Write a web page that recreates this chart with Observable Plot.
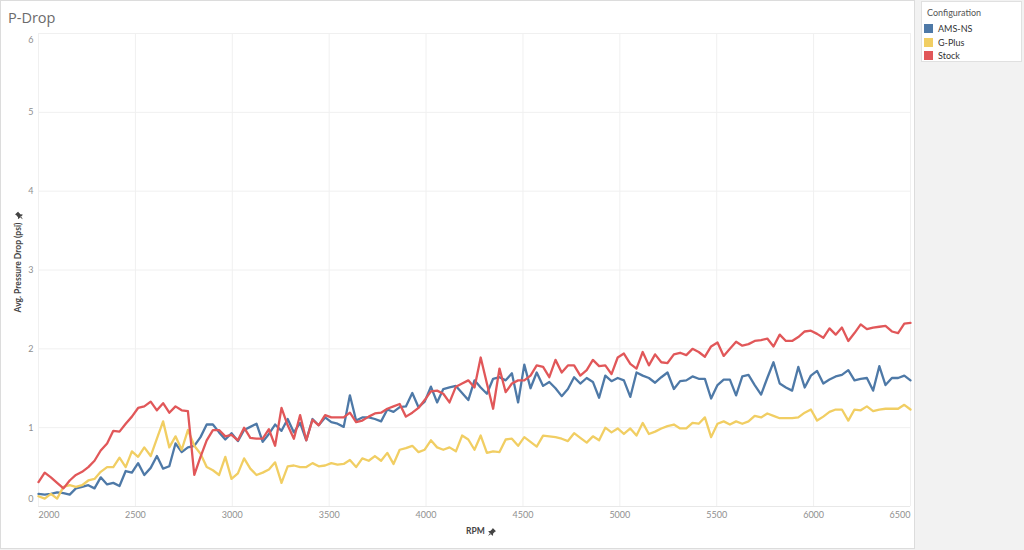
<!DOCTYPE html>
<html><head><meta charset="utf-8">
<script src="https://cdn.jsdelivr.net/npm/d3@7"></script>
<script src="https://cdn.jsdelivr.net/npm/@observablehq/plot@0.6"></script>
<style>
html,body{margin:0;padding:0;width:1024px;height:550px;overflow:hidden;background:#f2f2f2;font-family:"Open Sans",sans-serif;}
#panel{position:absolute;left:0;top:0;width:913px;height:547px;background:#fff;border:1px solid #dcdcdc;}
#chart{position:absolute;left:0;top:0;}
#title{position:absolute;left:8px;top:8px;font-size:14.5px;color:#6b6b6b;}
#ytitle{position:absolute;left:18px;top:262px;transform:translate(-50%,-50%) rotate(-90deg);font-family:Lato,sans-serif;font-size:8.5px;font-weight:bold;color:#444;white-space:nowrap;}
#xtitle{position:absolute;left:466px;top:526px;font-family:Lato,sans-serif;font-size:8.5px;font-weight:bold;color:#444;white-space:nowrap;}
.pin{display:inline-block;vertical-align:middle;margin-left:3px;}
#legend{position:absolute;left:921px;top:1px;width:99px;height:59px;background:#fff;border:1px solid #e0e0e0;font-family:Lato,sans-serif;}
#legend .lt{position:absolute;left:5px;top:5px;font-size:9px;color:#555;}
#legend .it{position:absolute;left:2px;height:11px;font-size:9px;color:#333;line-height:10px;white-space:nowrap;}
#legend .sw{display:inline-block;width:9px;height:9px;vertical-align:top;margin-right:5px;}
</style></head>
<body>
<div id="panel"></div>
<div id="chart"></div>
<div id="title">P-Drop</div>
<div id="ytitle">Avg. Pressure Drop (psi)<svg class="pin" width="8" height="8" viewBox="0 0 10 10"><path d="M6 0 L10 4 L8.6 4.6 L6.2 7.2 L6.4 9 L5.6 9.6 L0.4 4.4 L1 3.6 L2.8 3.8 L5.4 1.4 Z M2.6 6.2 L0 10 L3.8 7.4 Z" fill="#444"/></svg></div>
<div id="xtitle">RPM<svg class="pin" width="8" height="8" viewBox="0 0 10 10"><path d="M6 0 L10 4 L8.6 4.6 L6.2 7.2 L6.4 9 L5.6 9.6 L0.4 4.4 L1 3.6 L2.8 3.8 L5.4 1.4 Z M2.6 6.2 L0 10 L3.8 7.4 Z" fill="#444"/></svg></div>
<div id="legend"></div>
<script>
const configs = ["AMS-NS", "G-Plus", "Stock"];
const colors = ["#4e79a7", "#f1ce63", "#e15759"];
const yTicks = [0, 1, 2, 3, 4, 5, 6];
const xTicks = [2000, 2500, 3000, 3500, 4000, 4500, 5000, 5500, 6000, 6500];

const rpm = [2000,2032,2064,2096,2129,2161,2193,2225,2257,2289,
2321,2354,2386,2418,2450,2482,2514,2546,2579,2611,
2643,2675,2707,2739,2771,2804,2836,2868,2900,2932,
2964,2996,3029,3061,3093,3125,3157,3189,3221,3254,
3286,3318,3350,3382,3414,3446,3479,3511,3543,3575,
3607,3639,3671,3704,3736,3768,3800,3832,3864,3896,
3929,3961,3993,4025,4057,4089,4121,4154,4186,4218,
4250,4282,4314,4346,4379,4411,4443,4475,4507,4539,
4571,4604,4636,4668,4700,4732,4764,4796,4829,4861,
4893,4925,4957,4989,5021,5054,5086,5118,5150,5182,
5214,5246,5279,5311,5343,5375,5407,5439,5471,5504,
5536,5568,5600,5632,5664,5696,5729,5761,5793,5825,
5857,5889,5921,5954,5986,6018,6050,6082,6114,6146,
6179,6211,6243,6275,6307,6339,6371,6404,6436,6468,
6500];

const amsNs = [0.16,0.15,0.16,0.18,0.17,0.15,0.23,0.25,0.27,0.23,
0.37,0.28,0.30,0.26,0.45,0.43,0.55,0.40,0.49,0.64,
0.48,0.51,0.80,0.69,0.75,0.77,0.88,1.04,1.04,0.94,
0.85,0.93,0.83,0.97,1.01,1.05,0.82,0.92,1.04,0.96,
1.11,0.94,1.06,0.84,1.11,1.03,1.13,1.07,1.05,1.01,
1.41,1.09,1.13,1.13,1.11,1.08,1.23,1.20,1.26,1.27,
1.44,1.26,1.33,1.52,1.32,1.49,1.51,1.53,1.44,1.35,
1.60,1.51,1.43,1.62,1.64,1.60,1.69,1.32,1.80,1.50,
1.70,1.53,1.58,1.50,1.40,1.49,1.64,1.56,1.63,1.58,
1.38,1.66,1.59,1.63,1.60,1.39,1.70,1.66,1.63,1.57,
1.64,1.70,1.49,1.59,1.60,1.65,1.62,1.62,1.37,1.54,
1.61,1.61,1.41,1.65,1.67,1.54,1.42,1.63,1.83,1.56,
1.51,1.47,1.77,1.51,1.66,1.72,1.56,1.61,1.65,1.67,
1.73,1.60,1.62,1.63,1.47,1.78,1.54,1.63,1.63,1.66,
1.60];

const gPlus = [0.13,0.10,0.16,0.10,0.25,0.27,0.25,0.27,0.33,0.35,
0.44,0.50,0.50,0.62,0.50,0.70,0.63,0.75,0.64,0.86,
1.08,0.75,0.89,0.72,0.97,0.77,0.67,0.50,0.46,0.40,
0.63,0.35,0.42,0.61,0.48,0.40,0.43,0.47,0.56,0.30,
0.51,0.52,0.50,0.50,0.55,0.51,0.52,0.55,0.53,0.54,
0.59,0.50,0.61,0.58,0.64,0.58,0.68,0.54,0.72,0.74,
0.77,0.69,0.72,0.84,0.75,0.72,0.75,0.70,0.90,0.85,
0.72,0.90,0.68,0.70,0.69,0.85,0.86,0.77,0.88,0.82,
0.76,0.90,0.89,0.88,0.86,0.83,0.93,0.87,0.81,0.89,
0.84,1.00,0.94,0.99,0.92,0.99,0.90,1.06,0.92,0.95,
0.99,1.02,1.04,0.99,0.99,1.06,1.05,1.13,0.88,1.05,
1.08,1.04,1.08,1.05,1.08,1.15,1.13,1.18,1.15,1.12,
1.12,1.12,1.13,1.19,1.23,1.09,1.14,1.20,1.23,1.23,
1.09,1.23,1.22,1.27,1.21,1.23,1.24,1.24,1.24,1.29,
1.23];

const stock = [0.31,0.43,0.37,0.30,0.23,0.33,0.40,0.44,0.50,0.58,
0.71,0.80,0.96,0.95,1.05,1.14,1.25,1.27,1.33,1.22,
1.31,1.19,1.27,1.22,1.21,0.40,0.63,0.84,0.97,0.97,
0.89,0.91,0.84,1.00,0.87,0.86,0.86,0.98,0.77,1.25,
1.03,0.86,1.16,0.84,1.10,1.03,1.16,1.13,1.13,1.13,
1.19,1.07,1.09,1.14,1.18,1.19,1.24,1.27,1.30,1.14,
1.19,1.25,1.35,1.46,1.47,1.43,1.32,1.52,1.56,1.60,
1.51,1.89,1.56,1.24,1.75,1.45,1.56,1.60,1.60,1.66,
1.79,1.77,1.64,1.86,1.70,1.79,1.79,1.66,1.73,1.86,
1.78,1.79,1.68,1.89,1.94,1.81,1.75,1.96,1.79,1.93,
1.83,1.82,1.93,1.95,1.92,2.00,1.96,1.90,2.03,2.08,
1.91,2.00,2.09,2.04,2.06,2.10,2.11,2.13,2.03,2.18,
2.10,2.10,2.15,2.22,2.23,2.19,2.14,2.26,2.18,2.27,
2.10,2.20,2.31,2.25,2.27,2.28,2.29,2.22,2.20,2.32,
2.33];

const series = {"AMS-NS": amsNs, "G-Plus": gPlus, "Stock": stock};
const rows = [];
for (const c of configs) series[c].forEach((v, i) => rows.push({config: c, rpm: rpm[i], value: v}));

const tickOpts = {tickSize: 0, tickPadding: 5, label: null, fill: "#8f8f8f", tickFormat: "d"};
const midX = xTicks.slice(1, -1);
const midY = yTicks.slice(1, -1);

const chart = Plot.plot({
  width: 914, height: 548,
  marginLeft: 38, marginRight: 4, marginTop: 33, marginBottom: 42,
  x: {domain: [xTicks[0], xTicks[xTicks.length - 1]]},
  y: {domain: [yTicks[0], yTicks[yTicks.length - 1]]},
  color: {domain: configs, range: colors},
  style: {fontFamily: "Lato, sans-serif", fontSize: "9px", background: "transparent", overflow: "visible"},
  marks: [
    Plot.gridX(midX.concat([xTicks[xTicks.length - 1]]), {stroke: "#f0f0f0", strokeOpacity: 1}),
    Plot.gridY(yTicks.slice(1), {stroke: "#f0f0f0", strokeOpacity: 1}),
    Plot.ruleY([yTicks[0]], {stroke: "#e8e8e8"}),
    Plot.ruleX([xTicks[0]], {stroke: "#f0f0f0"}),
    Plot.axisY(midY, tickOpts),
    Plot.axisY([yTicks[0]], {...tickOpts, dy: -7}),
    Plot.axisY([yTicks[yTicks.length - 1]], {...tickOpts, dy: 7}),
    Plot.axisX(midX, tickOpts),
    Plot.axisX([xTicks[0]], {...tickOpts, textAnchor: "start"}),
    Plot.axisX([xTicks[xTicks.length - 1]], {...tickOpts, textAnchor: "end"}),
    Plot.line(rows, {x: "rpm", y: "value", z: "config", stroke: "config", strokeWidth: 2.3, strokeLinejoin: "round"})
  ]
});
document.getElementById("chart").appendChild(chart);

const legend = document.getElementById("legend");
legend.innerHTML = '<div class="lt">Configuration</div>' + configs.map((c, i) =>
  `<div class="it" style="top:${22 + i * 13.5}px"><span class="sw" style="background:${colors[i]}"></span>${c}</div>`).join("");
</script>
</body></html>
